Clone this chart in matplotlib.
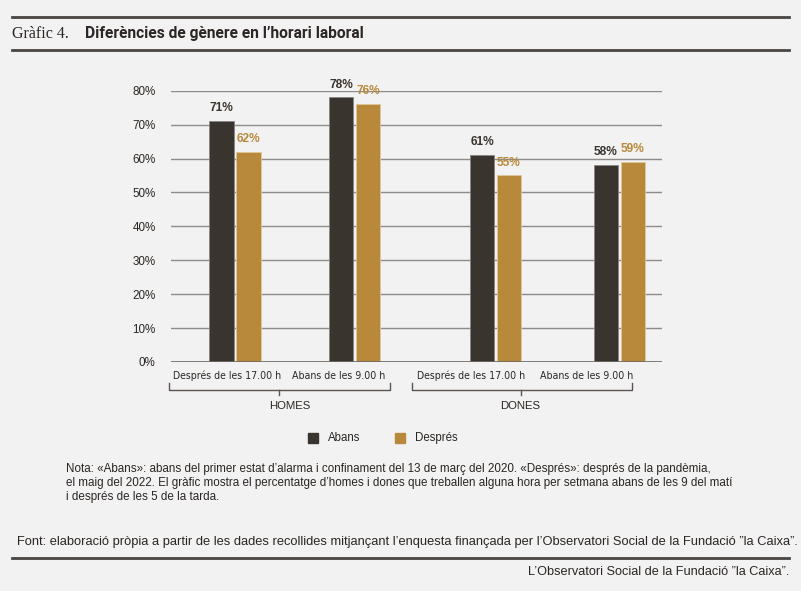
import matplotlib.pyplot as plt
import matplotlib.font_manager as fm
from matplotlib.patches import Rectangle
from matplotlib.lines import Line2D
import matplotlib.transforms as mtransforms

# data
categories = ["Després de les 17.00 h", "Abans de les 9.00 h",
              "Després de les 17.00 h", "Abans de les 9.00 h"]
groups = ["HOMES", "DONES"]
abans = [71, 78, 61, 58]
despres = [62, 76, 55, 59]
yticks = [0, 10, 20, 30, 40, 50, 60, 70, 80]

# layout (x unit = 100 px of the axis)
bar_pos = [0.64, 1.835, 3.245, 4.485]
label_pos = [0.565, 1.68, 3.00, 4.16]
bracket_span = [(-0.017, 2.187), (2.407, 4.607)]
bracket_mid = [1.08, 3.50]
group_label_pos = [1.19, 3.495]
bw = 0.245
off = 0.135

dark = "#3a342f"
gold = "#b8893b"
bg = "#f2f2f2"
txt = "#2b2623"

# look for a narrow font, otherwise shrink the normal one
names = {f.name for f in fm.fontManager.ttflist}
cond = [f for f in fm.fontManager.ttflist
        if f.name == 'DejaVu Sans' and f.stretch == 'condensed']
if 'Liberation Sans Narrow' in names:
    narrow = dict(family=['Liberation Sans Narrow', 'DejaVu Sans'])
    k = 1.2
elif cond:
    narrow = dict(family=['DejaVu Sans'], fontstretch='condensed')
    k = 1.0
else:
    narrow = dict(family=['Liberation Sans', 'DejaVu Sans'])
    k = 1.0

plt.rcParams['font.family'] = ['Liberation Sans', 'DejaVu Sans']

fig = plt.figure(figsize=(8.01, 5.91), dpi=100, facecolor=bg)
W, H = 801, 591

def fx(px):
    return px / W

def fy(py):
    return 1 - py / H

# header / footer rules
for y in [17, 50, 558]:
    fig.add_artist(Line2D([fx(12), fx(789)], [fy(y), fy(y)], color="#4a4542", lw=2))

fig.text(fx(12), fy(34), "Gràfic 4.", family=['Liberation Serif', 'DejaVu Serif'],
         fontsize=11.5, color=txt, va='center')
fig.text(fx(85), fy(33.5), "Diferències de gènere en l\u2019horari laboral",
         family=['Roboto', 'DejaVu Sans'], fontweight='bold', fontsize=11.2,
         color=txt, va='center')

ax = fig.add_axes([fx(171), fy(362), fx(662) - fx(171), (362 - 90.7) / H])
ax.set_facecolor(bg)

ax.bar([p - off for p in bar_pos], abans, bw, color=dark, edgecolor="#8a8580",
       linewidth=0.6, zorder=3)
ax.bar([p + off for p in bar_pos], despres, bw, color=gold, edgecolor="#e0c79a",
       linewidth=0.6, zorder=3)

for p, a, d in zip(bar_pos, abans, despres):
    ax.annotate(f"{a}%", (p - off, a), xytext=(0, 5), textcoords='offset points',
                ha='center', va='bottom', fontsize=8.6, fontweight='bold',
                color=dark, annotation_clip=False)
    ax.annotate(f"{d}%", (p + off, d), xytext=(0, 5), textcoords='offset points',
                ha='center', va='bottom', fontsize=8.6, fontweight='bold',
                color=gold, annotation_clip=False)

ax.set_xlim(0, 4.91)
ax.set_ylim(0, 80)
ax.set_yticks(yticks)
ax.set_yticklabels([f"{t}%" for t in yticks], fontsize=8.4, color=txt)
ax.tick_params(axis='y', length=0, pad=11)
ax.set_xticks([])
ax.grid(axis='y', color="#8f8b88", lw=1, zorder=0)
for s in ax.spines.values():
    s.set_visible(False)
ax.axhline(0, color="#6e6a66", lw=1.2, zorder=4)

trans = mtransforms.blended_transform_factory(ax.transData, ax.transAxes)
for p, c in zip(label_pos, categories):
    ax.text(p, -0.052, c, transform=trans, ha='center', va='center',
            fontsize=7.6 * k, color=txt, **narrow)

for (x0, x1), xm, gx, g in zip(bracket_span, bracket_mid, group_label_pos, groups):
    ax.plot([x0, x0, x1, x1], [-0.076, -0.103, -0.103, -0.076], transform=trans,
            color="#5a5552", lw=1, clip_on=False)
    ax.plot([xm, xm], [-0.103, -0.122], transform=trans, color="#5a5552",
            lw=1, clip_on=False)
    ax.text(gx, -0.161, g, transform=trans, ha='center', va='center',
            fontsize=8.2, color=txt)

# legend
for x0, col, lab in [(308, dark, "Abans"), (395, gold, "Després")]:
    fig.add_artist(Rectangle((fx(x0), fy(443)), 10 / W, 10 / H, color=col,
                             transform=fig.transFigure))
    fig.text(fx(x0 + 20), fy(438), lab, fontsize=8.3, color=txt, va='center')

notes = ["Nota: «Abans»: abans del primer estat d\u2019alarma i confinament del 13 de març del 2020. «Després»: després de la pandèmia,",
         "el maig del 2022. El gràfic mostra el percentatge d\u2019homes i dones que treballen alguna hora per setmana abans de les 9 del matí",
         "i després de les 5 de la tarda."]
for i, line in enumerate(notes):
    fig.text(fx(65.5), fy(469.3 + 13.7 * i), line, fontsize=8.4, color=txt, va='center')

fig.text(fx(17), fy(542.5), "Font: elaboració pròpia a partir de les dades recollides mitjançant l\u2019enquesta finançada per l\u2019Observatori Social de la Fundació \u201dla Caixa\u201d.",
         fontsize=9.25, color=txt, va='center')
fig.text(fx(789), fy(572), "L\u2019Observatori Social de la Fundació \u201dla Caixa\u201d.",
         fontsize=9.2, color=txt, va='center', ha='right')

fig.savefig("out.png", dpi=100, facecolor=bg)
